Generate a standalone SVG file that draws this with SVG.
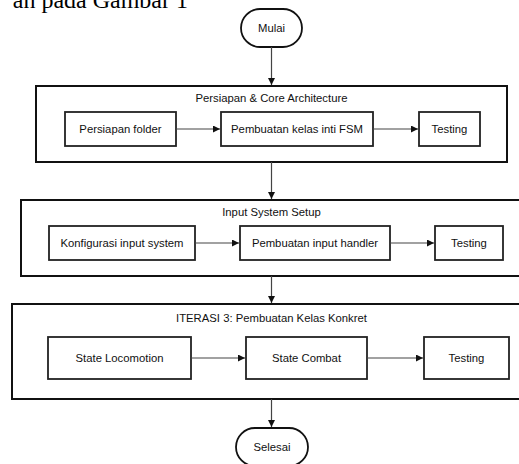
<svg xmlns="http://www.w3.org/2000/svg" width="519" height="464" viewBox="0 0 519 464">
<style>
.t{font-family:"Liberation Sans",Arial,sans-serif;font-size:11.3px;fill:#111;text-anchor:middle;dominant-baseline:central}
.grp{fill:#fff;stroke:#111;stroke-width:2}
.box{fill:#fff;stroke:#222;stroke-width:1.8}
.term{fill:#fff;stroke:#111;stroke-width:1.8}
.c{stroke:#444;stroke-width:1.2;fill:none;marker-end:url(#ah)}
.doc{font-family:"Liberation Serif","Times New Roman",serif;font-size:24px;fill:#000}
</style>
<defs>
<marker id="ah" viewBox="0 0 10 10" refX="10" refY="5" markerWidth="7" markerHeight="7" markerUnits="userSpaceOnUse" orient="auto">
<path d="M0,0 L10,5 L0,10 z" fill="#111"/>
</marker>
</defs>
<rect width="519" height="464" fill="#fff"/>
<text class="doc" x="188" y="8" text-anchor="end">an pada Gambar 1</text>

<g id="mulai"><rect class="term" x="241" y="9" width="61" height="38" rx="19"/><text class="t" x="271.5" y="28">Mulai</text></g>

<g id="iter1">
<rect class="grp" x="36" y="86" width="471" height="76"/>
<text class="t" x="271.5" y="98">Persiapan &amp; Core Architecture</text>
</g>
<g id="persiapan-folder"><rect class="box" x="65" y="112" width="111" height="34"/><text class="t" x="120.5" y="129">Persiapan folder</text></g>
<g id="kelas-inti"><rect class="box" x="221" y="112" width="152" height="34"/><text class="t" x="297" y="129">Pembuatan kelas inti FSM</text></g>
<g id="testing1"><rect class="box" x="419" y="112" width="61" height="34"/><text class="t" x="449.5" y="129">Testing</text></g>

<g id="iter2">
<rect class="grp" x="21" y="200" width="501" height="76"/>
<text class="t" x="271.5" y="212">Input System Setup</text>
</g>
<g id="konfig-input"><rect class="box" x="49" y="226" width="146" height="34"/><text class="t" x="122" y="243">Konfigurasi input system</text></g>
<g id="input-handler"><rect class="box" x="240" y="226" width="150" height="34"/><text class="t" x="315" y="243">Pembuatan input handler</text></g>
<g id="testing2"><rect class="box" x="435" y="226" width="68" height="34"/><text class="t" x="469" y="243">Testing</text></g>

<g id="iter3">
<rect class="grp" x="12" y="304" width="519" height="95"/>
<text class="t" x="271.5" y="318">ITERASI 3: Pembuatan Kelas Konkret</text>
</g>
<g id="state-locomotion"><rect class="box" x="48" y="337" width="143" height="42"/><text class="t" x="119.5" y="358">State Locomotion</text></g>
<g id="state-combat"><rect class="box" x="246" y="337" width="121" height="42"/><text class="t" x="306.5" y="358">State Combat</text></g>
<g id="testing3"><rect class="box" x="424" y="337" width="85" height="42"/><text class="t" x="466.5" y="358">Testing</text></g>

<g id="selesai"><rect class="term" x="236" y="428" width="72" height="38" rx="19"/><text class="t" x="272" y="447">Selesai</text></g>

<g id="connectors">
<line class="c" x1="271.5" y1="47" x2="271.5" y2="85"/>
<line class="c" x1="176" y1="129" x2="220" y2="129"/>
<line class="c" x1="373" y1="129" x2="418" y2="129"/>
<line class="c" x1="271.5" y1="162" x2="271.5" y2="199"/>
<line class="c" x1="195" y1="243" x2="239" y2="243"/>
<line class="c" x1="390" y1="243" x2="434" y2="243"/>
<line class="c" x1="271.5" y1="276" x2="271.5" y2="303"/>
<line class="c" x1="191" y1="358" x2="245" y2="358"/>
<line class="c" x1="367" y1="358" x2="423" y2="358"/>
<line class="c" x1="271.5" y1="399" x2="271.5" y2="427"/>
</g>
</svg>
